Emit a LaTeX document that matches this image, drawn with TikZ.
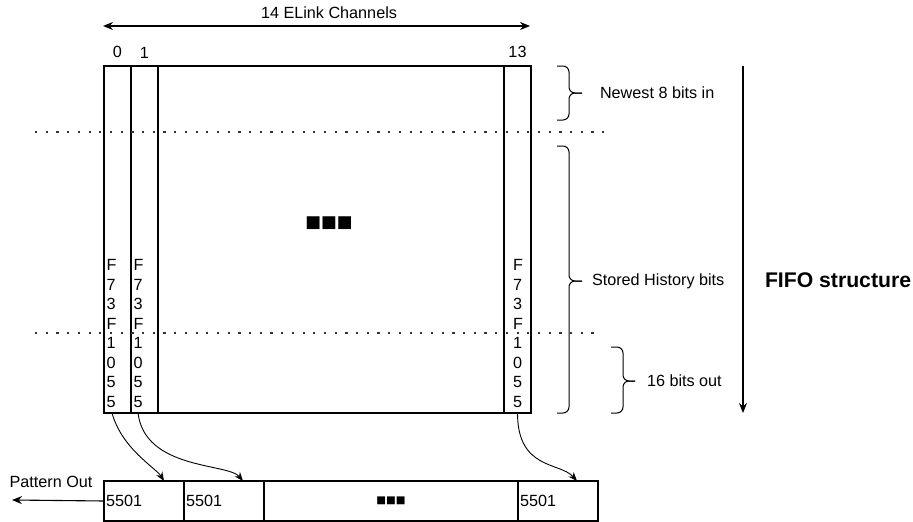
\documentclass[tikz,border=0pt]{standalone}
\usepackage{fontspec}
\setmainfont{Liberation Sans}
\newfontfamily\symfont{DejaVu Sans}
\usetikzlibrary{positioning, arrows.meta, calc}

\begin{document}
\begin{tikzpicture}[x=1pt, y=-1pt,
    every node/.style={font=\fontsize{16.2}{19.5}\selectfont, inner sep=0pt, outer sep=0pt},
    lane/.style={draw, line width=1.1pt, minimum width=27pt, minimum height=347pt},
    cell/.style={draw, line width=1.1pt, minimum height=40pt, inner xsep=2pt, align=left},
    bits/.style={align=left},
    arrow/.style={-{Stealth[length=10pt, width=8pt]}, line width=1.1pt},
    curve/.style={-{Stealth[length=9pt, width=7pt]}, line width=0.9pt},
    sep/.style={line width=2.2pt, dash pattern=on 2.2pt off 8.5pt, draw=black!80},
    bracket/.style={line width=1pt, rounded corners=6pt}
]
\useasboundingbox (0,0) rectangle (913,522);

% FIFO body and channel lanes
\node[draw, line width=1.1pt, minimum width=427pt, minimum height=347pt] (fifo) at (317.5,239.5) {};
\node[lane, anchor=north west] (ch0) at (fifo.north west) {};
\node[lane, right=0pt of ch0] (ch1) {};
\node[lane, anchor=north east] (ch13) at (fifo.north east) {};
\node[above=8pt of ch0.north] (lab0) {0};
\node[above=8pt of ch1.north] (lab1) {1};
\node[above=8pt of ch13.north] (lab13) {13};
\node[bits, above right=5.5pt and 2.5pt of ch0.south west] (bits0) {F\\7\\3\\F\\1\\0\\5\\5};
\node[bits, above right=5.5pt and 2.5pt of ch1.south west] (bits1) {F\\7\\3\\F\\1\\0\\5\\5};
\node[bits, above right=5.5pt and 9pt of ch13.south west] (bits13) {F\\7\\3\\F\\1\\0\\5\\5};
\node[font=\symfont\fontsize{16.7}{20}\selectfont] (gap) at (329,223) {■■■};

% channel width
\coordinate (wl) at (103,26);
\coordinate (wr) at (530,26);
\draw[arrow, {Stealth[length=10pt, width=8pt]}-{Stealth[length=10pt, width=8pt]}] (wl) -- (wr);
\node (width) at (329,13) {14 ELink Channels};

% window boundaries
\draw[sep] (35,132) -- (607,132);
\draw[sep] (35,333) -- (600,333);

% brackets
\draw[bracket] (557,66) -| (569,93) -- (582,93);
\draw[bracket] (582,93) -- (569,93) |- (557,120);
\node[anchor=west] (newest) at (600,93) {Newest 8 bits in};
\draw[bracket] (557,146) -| (569,281) -- (582,281);
\draw[bracket] (582,281) -- (569,281) |- (557,413);
\node[anchor=west] (stored) at (592,281) {Stored History bits};
\draw[bracket] (611,347) -| (623,381) -- (635,381);
\draw[bracket] (635,381) -- (623,381) |- (611,413);
\node[anchor=west] (out) at (647,381) {16 bits out};

% direction of flow
\coordinate (ftop) at (743,66);
\coordinate (fbot) at (743,413);
\draw[arrow] (ftop) -- (fbot);
\node[anchor=west, font=\bfseries\fontsize{21.2}{24}\selectfont] (title) at (765,280) {FIFO structure};

% output pattern
\node[cell, text width=76pt, anchor=north west] (out0) at (104,481) {5501};
\node[cell, text width=76pt, right=0pt of out0] (out1) {5501};
\node[cell, text width=250pt, align=center, right=0pt of out1, font=\symfont\fontsize{10.3}{12}\selectfont] (outgap) {■■■};
\node[cell, text width=76pt, right=0pt of outgap] (out13) {5501};
\coordinate (po) at (12,500);
\draw[arrow] (out0.west) -- (po);
\node (pattern) at (51,482) {Pattern Out};

\draw[curve] ([xshift=-5.5pt]ch0.south) .. controls ($(ch0.south)+(4.5,36)$) and ($(out0.north)+(12,-13)$) .. ([xshift=20pt]out0.north);
\draw[curve] ([xshift=-6.5pt]ch1.south) .. controls ($(ch1.south)+(0.5,57)$) and ($(out1.north)+(4,-18)$) .. ([xshift=19pt]out1.north);
\draw[curve] (ch13.south) .. controls ($(ch13.south)+(0,57)$) and ($(out13.north)+(2,-19)$) .. ([xshift=19pt]out13.north);
\end{tikzpicture}
\end{document}
